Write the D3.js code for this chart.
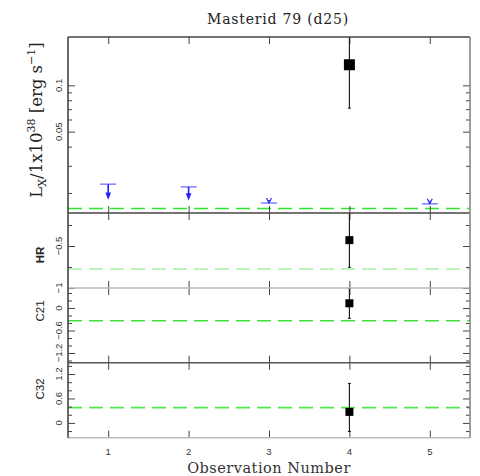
<!DOCTYPE html>
<html><head><meta charset="utf-8">
<script src="https://cdn.jsdelivr.net/npm/d3@7"></script>
<style>body{margin:0;background:#fff}svg{display:block}</style>
</head><body>
<svg id="c" width="480" height="476"></svg>
<script>
// ---- data ----
const obsTicks = [1, 2, 3, 4, 5];
const obsLabels = ["1", "2", "3", "4", "5"];
// Luminance (detections)
const lxObs = [4];
const lxVal = [0.136];
const lxLo = [0.0711];
const lxHi = [0.30];
// Luminance upper limits
const ulObs = [1, 2, 3, 5];
const ulVal = [0.0228, 0.0219, 0.0172, 0.0170];
const ulArrowFrom = [0.0228, 0.0219, 0.0180, 0.0178];
const ulArrowTo = [0.0185, 0.0183, 0.0172, 0.0170];
const lxRef = 0.01585;
const lxMajor = [0.05, 0.1];
const lxMajorLabels = ["0.05", "0.1"];
const lxMinor = [0.02, 0.03, 0.04, 0.06, 0.07, 0.08, 0.09];
// HR
const hrObs = [4];
const hrVal = [-0.43];
const hrLo = [-0.754];
const hrHi = [-0.08];
const hrRef = -0.774;
const hrMajor = [-0.5, -1];
const hrMajorLabels = ["\u22120.5", "\u22121"];
const hrMinor = [-0.25, -0.75];
// C21
const c21Obs = [4];
const c21Val = [0.125];
const c21Lo = [-0.275];
const c21Hi = [0.52];
const c21Ref = -0.34;
const c21Major = [0, -0.6, -1.2];
const c21MajorLabels = ["0", "\u22120.6", "\u22121.2"];
const c21Minor = [0.4, 0.2, -0.2, -0.4, -0.8, -1.0, -1.4];
// C32
const c32Obs = [4];
const c32Val = [0.27];
const c32Lo = [-0.21];
const c32Hi = [0.97];
const c32Ref = 0.375;
const c32Major = [0, 0.6, 1.2];
const c32MajorLabels = ["0", "0.6", "1.2"];
const c32Minor = [-0.2, 0.2, 0.4, 0.8, 1.0, 1.4];

// ---- layout ----
const svg = d3.select("#c");
const L = 68, R = 470;
const x = d3.scaleLinear().domain([0.5, 5.5]).range([L, R]);

const panels = [
  {id: "lx", top: 37, bot: 213, scale: d3.scaleLog().domain([0.01482, 0.206]),
   major: lxMajor, majorLabels: lxMajorLabels, minor: lxMinor, ref: lxRef, refColor: "#2ee62e",
   obs: lxObs, val: lxVal, lo: lxLo, hi: lxHi, sq: 11, label: null},
  {id: "hr", top: 213, bot: 288, scale: d3.scaleLinear().domain([-1.0, -0.107]),
   major: hrMajor, majorLabels: hrMajorLabels, minor: hrMinor, ref: hrRef, refColor: "#a8f0a8",
   obs: hrObs, val: hrVal, lo: hrLo, hi: hrHi, sq: 8, label: "HR", labelY: 255},
  {id: "c21", top: 288, bot: 362.7, scale: d3.scaleLinear().domain([-1.459, 0.533]),
   major: c21Major, majorLabels: c21MajorLabels, minor: c21Minor, ref: c21Ref, refColor: "#3ee03e",
   obs: c21Obs, val: c21Val, lo: c21Lo, hi: c21Hi, sq: 8, label: "C21", labelY: 311},
  {id: "c32", top: 362.7, bot: 437.7, scale: d3.scaleLinear().domain([-0.363, 1.478]),
   major: c32Major, majorLabels: c32MajorLabels, minor: c32Minor, ref: c32Ref, refColor: "#4ee64e",
   obs: c32Obs, val: c32Val, lo: c32Lo, hi: c32Hi, sq: 8, label: "C32", labelY: 389}
];

const defs = svg.append("defs");
panels.forEach(p => {
  p.scale.range([p.bot, p.top]);
  defs.append("clipPath").attr("id", "clip-" + p.id)
    .append("rect").attr("x", L).attr("y", p.top).attr("width", R - L).attr("height", p.bot - p.top);
});

const axisColor = "#444";
function styleAxis(g) {
  g.select(".domain").remove();
  g.selectAll(".tick line").attr("stroke", axisColor).attr("stroke-width", 1);
  g.selectAll(".tick text").remove();
}

panels.forEach(p => {
  const g = svg.append("g");
  const y = p.scale;
  // reference dashed line
  g.append("g").attr("clip-path", `url(#clip-${p.id})`)
    .append("line").attr("x1", L).attr("x2", R)
    .attr("y1", y(p.ref)).attr("y2", y(p.ref))
    .attr("stroke", p.refColor).attr("stroke-width", 1.6).attr("stroke-dasharray", "14,7");

  // y ticks left & right
  [[d3.axisLeft, L], [d3.axisRight, R]].forEach(([ax, xp]) => {
    g.append("g").attr("transform", `translate(${xp},0)`)
      .call(ax(y).tickValues(p.major).tickSize(-7).tickFormat(""))
      .call(styleAxis);
    g.append("g").attr("transform", `translate(${xp},0)`)
      .call(ax(y).tickValues(p.minor).tickSize(-4).tickFormat(""))
      .call(styleAxis);
  });
  // x ticks top & bottom
  g.append("g").attr("transform", `translate(0,${p.top})`)
    .call(d3.axisTop(x).tickValues(obsTicks).tickSize(-7).tickFormat("")).call(styleAxis);
  g.append("g").attr("transform", `translate(0,${p.bot})`)
    .call(d3.axisBottom(x).tickValues(obsTicks).tickSize(-7).tickFormat("")).call(styleAxis);

  // y tick labels (rotated)
  g.selectAll("text.yl").data(p.major).join("text")
    .attr("class", "yl")
    .attr("transform", d => `translate(62,${y(d)}) rotate(-90)`)
    .attr("text-anchor", "middle")
    .attr("font-family", "Liberation Sans, Arial, sans-serif")
    .attr("font-size", 9.5).attr("fill", "#333")
    .text((d, i) => p.majorLabels[i]);

  // panel label
  if (p.label) {
    g.append("text")
      .attr("transform", `translate(44,${p.labelY}) rotate(-90)`)
      .attr("text-anchor", "middle")
      .attr("font-family", "Liberation Sans, Arial, sans-serif")
      .attr("font-size", 11.5).attr("font-weight", p.id === "hr" ? "bold" : "normal").attr("fill", "#222")
      .text(p.label);
  }

  // data: error bars and squares
  const dg = g.append("g").attr("clip-path", `url(#clip-${p.id})`);
  p.obs.forEach((o, i) => {
    const cx = x(o);
    dg.append("line").attr("x1", cx).attr("x2", cx)
      .attr("y1", y(p.lo[i])).attr("y2", y(p.hi[i]))
      .attr("stroke", "#111").attr("stroke-width", 1.1);
    [p.lo[i], p.hi[i]].forEach(v => {
      dg.append("line").attr("x1", cx - 1.5).attr("x2", cx + 1.5)
        .attr("y1", y(v)).attr("y2", y(v)).attr("stroke", "#111").attr("stroke-width", 1);
    });
    dg.append("rect").attr("x", cx - p.sq / 2).attr("y", y(p.val[i]) - p.sq / 2)
      .attr("width", p.sq).attr("height", p.sq).attr("fill", "#000");
  });

  // upper limits on luminosity panel
  if (p.id === "lx") {
    ulObs.forEach((o, i) => {
      const cx = x(o);
      dg.append("line").attr("x1", cx - 8).attr("x2", cx + 8)
        .attr("y1", y(ulVal[i])).attr("y2", y(ulVal[i]))
        .attr("stroke", "#8a8aff").attr("stroke-width", 1.6);
      const y1 = y(ulArrowFrom[i]), y2 = y(ulArrowTo[i]);
      dg.append("line").attr("x1", cx).attr("x2", cx).attr("y1", y1).attr("y2", y2 - 2)
        .attr("stroke", "#2020ff").attr("stroke-width", 1.6);
      const filled = (ulArrowFrom[i] === ulVal[i]);
      dg.append("path")
        .attr("d", filled
          ? `M${cx - 2},${y2 - 5}L${cx},${y2}L${cx + 2},${y2 - 5}Z`
          : `M${cx - 2.5},${y2 - 5}L${cx},${y2}L${cx + 2.5},${y2 - 5}`)
        .attr("fill", filled ? "#2020ff" : "none").attr("stroke", "#2020ff").attr("stroke-width", 1.1);
    });
  }
});

// panel borders
const borderColors = ["#444", "#444", "#bbb", "#555", "#bbb"];
const bounds = [37, 213, 288, 362.7, 437.7];
bounds.forEach((b, i) => {
  svg.append("line").attr("x1", L).attr("x2", R).attr("y1", b).attr("y2", b)
    .attr("stroke", borderColors[i]).attr("stroke-width", 1.6);
});
svg.append("line").attr("x1", L).attr("x2", L).attr("y1", 37).attr("y2", 437.7)
  .attr("stroke", "#444").attr("stroke-width", 1.6);
svg.append("line").attr("x1", R).attr("x2", R).attr("y1", 37).attr("y2", 437.7)
  .attr("stroke", "#888").attr("stroke-width", 1.6);

// x tick labels
svg.selectAll("text.xl").data(obsTicks).join("text")
  .attr("class", "xl")
  .attr("x", d => x(d)).attr("y", 455)
  .attr("text-anchor", "middle")
  .attr("font-family", "Liberation Sans, Arial, sans-serif")
  .attr("font-size", 9.5).attr("fill", "#333")
  .text((d, i) => obsLabels[i]);

// axis title
svg.append("text").attr("x", 269).attr("y", 473)
  .attr("text-anchor", "middle")
  .attr("font-family", "DejaVu Serif, serif").attr("font-size", 14.5)
  .attr("letter-spacing", 0.5).attr("fill", "#333")
  .text("Observation Number");

// title
svg.append("text").attr("x", 278).attr("y", 24)
  .attr("text-anchor", "middle")
  .attr("font-family", "DejaVu Serif, serif").attr("font-size", 14)
  .attr("letter-spacing", 0.8).attr("fill", "#222")
  .text("Masterid 79 (d25)");

// y label top panel
const yl = svg.append("text")
  .attr("transform", "translate(42,120) rotate(-90)")
  .attr("text-anchor", "middle")
  .attr("font-family", "DejaVu Serif, serif").attr("font-size", 16.5).attr("fill", "#222");
yl.append("tspan").text("L");
yl.append("tspan").attr("font-size", 11).attr("dy", 4).text("X");
yl.append("tspan").attr("dy", -4).text("/1x10");
yl.append("tspan").attr("font-size", 11).attr("dy", -7).text("38");
yl.append("tspan").attr("dy", 7).text(" [erg s");
yl.append("tspan").attr("font-size", 11).attr("dy", -7).text("\u22121");
yl.append("tspan").attr("dy", 7).text("]");
</script>
</body></html>
